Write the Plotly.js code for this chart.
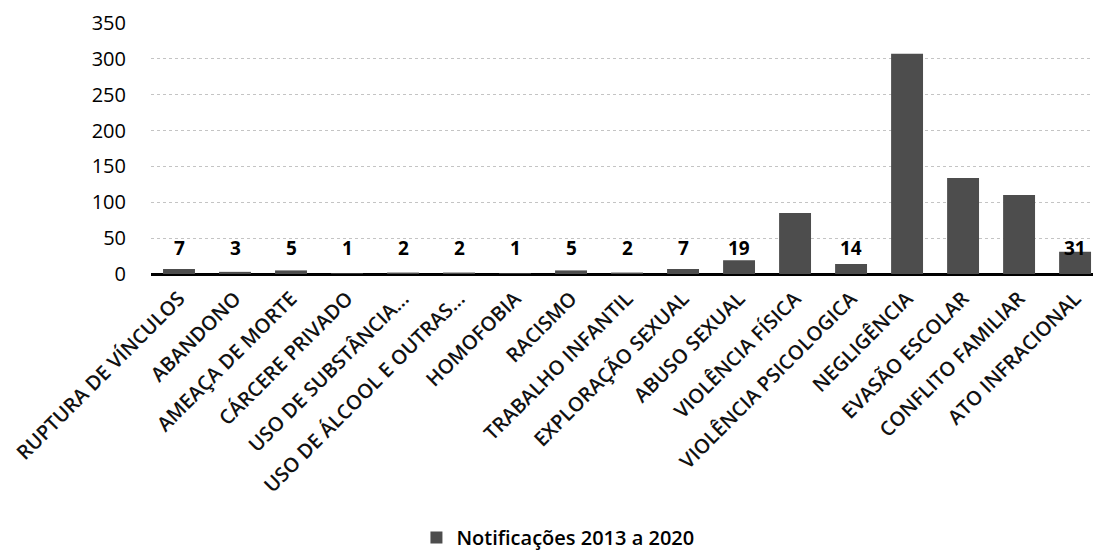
<!DOCTYPE html>
<html><head><meta charset="utf-8">
<script src="https://cdn.plot.ly/plotly-3.0.1.min.js"></script>
<style>html,body{margin:0;padding:0;background:#fff;}#chart{width:1093px;height:551px;}</style>
</head><body><div id="chart"></div>
<script>
const categories = ["RUPTURA DE VÍNCULOS","ABANDONO","AMEAÇA DE MORTE","CÁRCERE PRIVADO","USO DE SUBSTÂNCIA...","USO DE ÁLCOOL E OUTRAS...","HOMOFOBIA","RACISMO","TRABALHO INFANTIL","EXPLORAÇÃO SEXUAL","ABUSO SEXUAL","VIOLÊNCIA FÍSICA","VIOLÊNCIA PSICOLOGICA","NEGLIGÊNCIA","EVASÃO ESCOLAR","CONFLITO FAMILIAR","ATO INFRACIONAL"];
const values = [7,3,5,1,2,2,1,5,2,7,19,85,14,307,134,110,31];
const valueLabels = ["7","3","5","1","2","2","1","5","2","7","19","","14","","","","31"];
const seriesName = "Notificações 2013 a 2020";

const F = '"Open Sans", sans-serif';
const annotations = categories.map((c,i)=>({
  x:c, y:36, text:valueLabels[i], showarrow:false, xanchor:'center', yanchor:'middle',
  font:{family:F, size:19, color:'#000', weight:'bold'}
})).filter(a=>a.text!=="");

Plotly.newPlot('chart',[{
  type:'bar', x:categories, y:values, name:seriesName,
  marker:{color:'#4d4d4d'}, showlegend:true
}],{
  width:1093, height:551,
  margin:{l:151,r:0,t:23,b:277, autoexpand:false},
  paper_bgcolor:'#fff', plot_bgcolor:'#fff',
  bargap:0.43,
  font:{family:F, color:'#000'},
  xaxis:{type:'category', range:[-0.5,16.32], tickangle:-45, showgrid:false,
    tickfont:{family:F, size:20, color:'#111', weight:600},
    ticklabelstandoff:8,
    ticks:'', showline:false, zeroline:false, automargin:false},
  yaxis:{range:[0,350], dtick:50, showgrid:true, gridcolor:'#c4c4c4', gridwidth:1, griddash:'dot',
    zeroline:true, zerolinecolor:'#000', zerolinewidth:3,
    tickfont:{family:F, size:20, color:'#000'},
    ticklabelstandoff:24, automargin:false},
  legend:{orientation:'h', x:0.432, xanchor:'center', y:-1.05, yanchor:'middle',
    font:{family:F, size:20, color:'#000', weight:600}},
  annotations:annotations
},{staticPlot:true});
</script></body></html>
